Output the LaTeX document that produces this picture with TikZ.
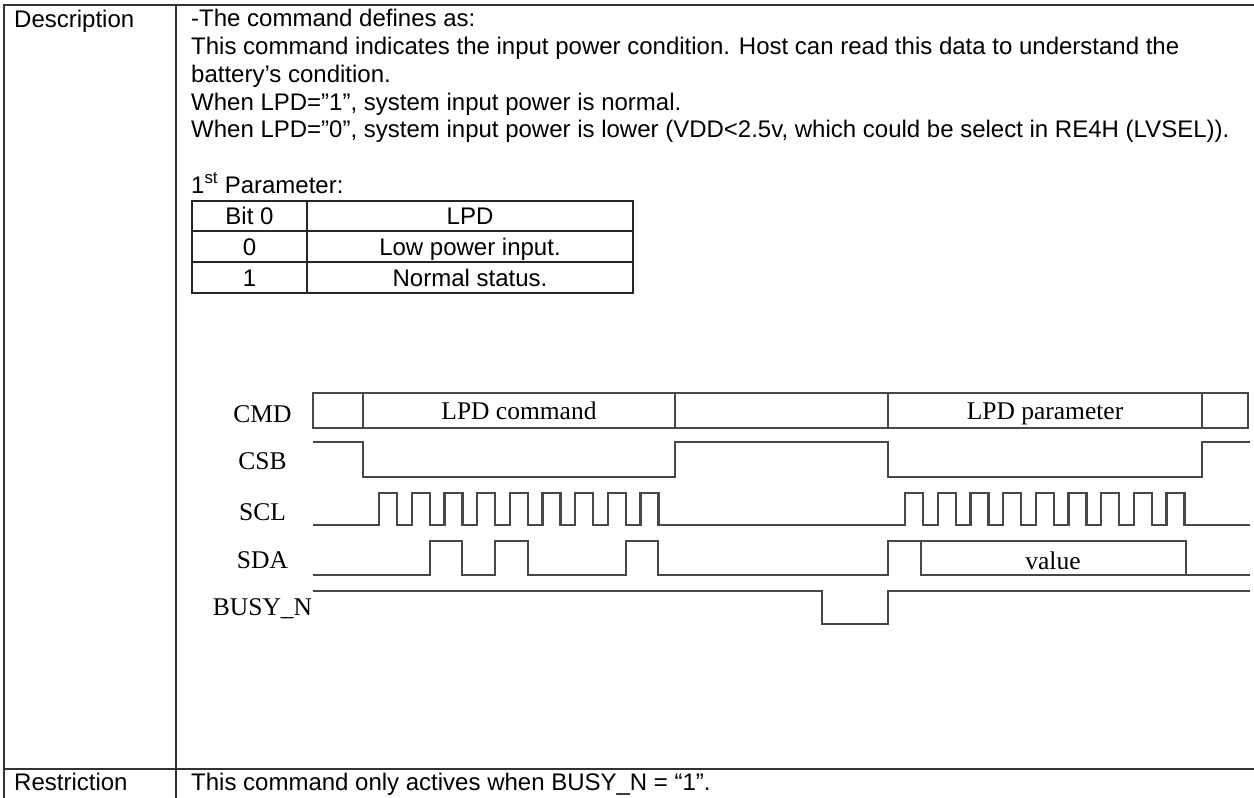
\documentclass[tikz,border=0pt]{standalone}
\usepackage{fontspec}
\setmainfont{Liberation Sans}
\newfontfamily\serifwave{Liberation Serif}
\usetikzlibrary{positioning}

\tikzset{
    frameline/.style={draw=black!80, line width=2.4pt},
    tabline/.style={draw=black!85, line width=1.8pt},
    wave/.style={draw=black!72, line width=2.3pt, line join=miter},
    body/.style={anchor=base west, inner sep=0pt, font=\fontsize{24}{28}\selectfont},
    cell/.style={anchor=base, inner sep=0pt, font=\fontsize{24}{28}\selectfont},
    signame/.style={anchor=base, inner sep=0pt, font=\serifwave\fontsize{25.5}{30}\selectfont},
}

\begin{document}
\begin{tikzpicture}[x=1pt, y=-1pt]
    \useasboundingbox (0,0) rectangle (1254,798);

    % outer frame and column rule
    \draw[frameline] (1254,5) -- (4,5) -- (4,798);
    \draw[frameline] (176,5) -- (176,798);
    \draw[frameline] (4,769) -- (1254,769);

    \node[body] (desc) at (14,27) {Description};
    \node[body] (restr) at (14,790) {Restriction};

    \node[body] (line1) at (191,26) {-The command defines as:};
    \node[body] (line2) at (191,54) {This command indicates the input power condition. Host can read this data to understand the};
    \node[body] (line3) at (191,82) {battery’s condition.};
    \node[body] (line4) at (191,110) {When LPD=”1”, system input power is normal.};
    \node[body] (line5) at (191,137) {When LPD=”0”, system input power is lower (VDD<2.5v, which could be select in RE4H (LVSEL)).};
    \node[body] (param) at (191,193) {1\textsuperscript{st} Parameter:};
    \node[body] (rule) at (191,790) {This command only actives when BUSY\_N = “1”.};

    % parameter table
    \draw[tabline] (192,201) rectangle (633,293);
    \draw[tabline] (192,231) -- (633,231) (192,262) -- (633,262) (307,201) -- (307,293);
    \node[cell] (bit) at (249.5,224) {Bit 0};
    \node[cell] (lpd) at (470,224) {LPD};
    \node[cell] (bitzero) at (249.5,255) {0};
    \node[cell] (lowpw) at (470,255) {Low power input.};
    \node[cell] (bitone) at (249.5,286) {1};
    \node[cell] (normal) at (470,286) {Normal status.};

    % timing diagram
    \node[signame] (cmd) at (262.5,422) {CMD};
    \node[signame] (csb) at (262.5,469) {CSB};
    \node[signame] (scl) at (262.5,520) {SCL};
    \node[signame] (sda) at (262.5,568) {SDA};
    \node[signame] (busy) at (262.5,615) {BUSY\_N};

    \draw[wave] (313,393) rectangle (1248,428);
    \foreach \x in {363,675,888,1202}
        \draw[wave] (\x,393) -- (\x,428);
    \node[signame] (cmdtxt) at (519,419.5) {LPD command};
    \node[signame] (partxt) at (1045,419.5) {LPD parameter};

    \draw[wave] (313,442) -- (363,442) -- (363,477) -- (675,477) -- (675,442)
        -- (888,442) -- (888,477) -- (1202,477) -- (1202,442) -- (1250,442);

    \draw[wave] (313,525)
        \foreach \k in {0,...,8} { -- ({379+32.7*\k},525) -- ++(0,-32) -- ++(18,0) -- ++(0,32) }
        \foreach \k in {0,...,8} { -- ({905+32.7*\k},525) -- ++(0,-32) -- ++(18,0) -- ++(0,32) }
        -- (1250,525);

    \draw[wave] (313,575) -- (430,575) -- (430,541) -- (462,541) -- (462,575)
        -- (495,575) -- (495,541) -- (528,541) -- (528,575) -- (626,575)
        -- (626,541) -- (658,541) -- (658,575) -- (888,575) -- (888,541)
        -- (1186,541) -- (1186,575) -- (1250,575);
    \draw[wave] (921,541) -- (921,575) -- (1186,575);
    \node[signame] (val) at (1053,569) {value};

    \draw[wave] (313,591) -- (822,591) -- (822,624) -- (888,624) -- (888,591) -- (1250,591);
\end{tikzpicture}
\end{document}
